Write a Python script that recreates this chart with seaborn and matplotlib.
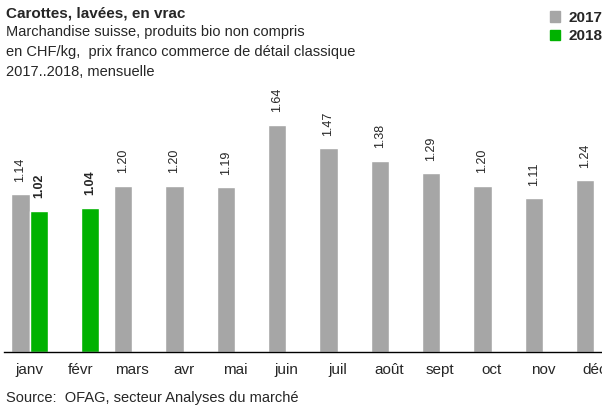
import numpy as np
import pandas as pd
import seaborn as sns
import matplotlib.pyplot as plt
from matplotlib.patches import Patch

# --- Données ---
mois = ["janv", "févr", "mars", "avr", "mai", "juin", "juil", "août",
        "sept", "oct", "nov", "déc"]
prix_2017 = [1.14, np.nan, 1.20, 1.20, 1.19, 1.64, 1.47, 1.38, 1.29, 1.20, 1.11, 1.24]
prix_2018 = [1.02, 1.04] + [np.nan] * 10
annees = ["2017", "2018"]
couleurs = {"2017": "#A6A6A6", "2018": "#00B200"}

df = pd.DataFrame({
    "mois": mois * 2,
    "annee": ["2017"] * 12 + ["2018"] * 12,
    "prix": prix_2017 + prix_2018,
})

sns.set_style("white")
plt.rcParams["font.family"] = ["Liberation Sans", "DejaVu Sans"]

fig = plt.figure(figsize=(6.02, 4.08), dpi=100)
ax = fig.add_axes([4 / 602, 56 / 408, 616 / 602, 277 / 408])

sns.barplot(data=df.dropna(), x="mois", y="prix", hue="annee", order=mois,
            hue_order=annees, palette=couleurs, width=0.72, ax=ax,
            legend=False, saturation=1)

# --- Étiquettes des barres ---
for cont, annee in zip(ax.containers, annees):
    ax.bar_label(cont, fmt="%.2f", rotation=90, padding=9, fontsize=9,
                 fontweight="bold" if annee == "2018" else "normal")

ax.set_xlim(-0.5, 11.5)
ax.set_ylim(0, 2.0)
ax.set_xlabel("")
ax.set_ylabel("")
ax.set_yticks([])
ax.tick_params(axis="x", length=0, labelsize=11, pad=8)
for s in ["top", "right", "left"]:
    ax.spines[s].set_visible(False)
ax.spines["bottom"].set_color("black")
ax.spines["bottom"].set_linewidth(1)

# --- Titres ---
fig.text(6 / 602, 1 - 13 / 408, "Carottes, lavées, en vrac", fontsize=11,
         fontweight="bold", va="center")
fig.text(6 / 602, 1 - 32 / 408, "Marchandise suisse, produits bio non compris",
         fontsize=10.5, va="center")
fig.text(6 / 602, 1 - 52 / 408, "en CHF/kg,  prix franco commerce de détail classique",
         fontsize=10.5, va="center")
fig.text(6 / 602, 1 - 72 / 408, "2017..2018, mensuelle", fontsize=10.5, va="center")
fig.text(6 / 602, 1 - 398 / 408, "Source:  OFAG, secteur Analyses du marché",
         fontsize=10.5, va="center")

# --- Légende ---
handles = [Patch(color=couleurs[a], label=a) for a in annees]
fig.legend(handles=handles, loc="upper left", bbox_to_anchor=(536 / 602, 1 + 3 / 408),
           frameon=False, prop={"weight": "bold", "size": 11},
           handlelength=0.7, handleheight=0.7, handletextpad=0.5, labelspacing=0.3)

plt.savefig("out.png", dpi=100)
